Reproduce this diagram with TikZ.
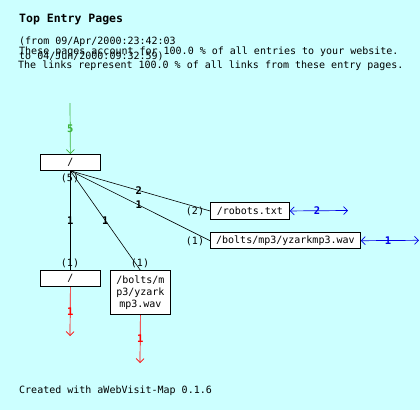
\documentclass[tikz,border=0pt]{standalone}
\usepackage{fontspec}
\setmonofont{DejaVu Sans Mono}
\usetikzlibrary{arrows.meta}
\definecolor{bg}{RGB}{204,255,255}
\definecolor{grn}{RGB}{60,180,60}
\definecolor{blu}{RGB}{0,0,230}
\definecolor{rd}{RGB}{255,0,0}
\tikzset{
  txt/.style={font=\ttfamily\fontsize{10}{11}\selectfont, inner sep=0pt},
  btxt/.style={font=\ttfamily\bfseries\fontsize{10.5}{11}\selectfont, inner sep=0pt},
  pagebox/.style={draw=black, fill=white, line width=0.8pt, inner sep=0pt, anchor=north west,
    font=\ttfamily\fontsize{10}{11}\selectfont, align=center},
  link/.style={draw=black, line width=0.6pt},
  vtip/.style={-{Straight Barb[length=4pt,width=8pt]}},
  elab/.style={btxt, midway},
}
\begin{document}
\begin{tikzpicture}[x=1pt,y=-1pt]
\fill[bg] (0,0) rectangle (420,410);
\useasboundingbox (0,0) rectangle (420,410);
% header
\node[btxt, anchor=west, font=\ttfamily\bfseries\fontsize{11.5}{12}\selectfont] (title) at (19,20) {Top Entry Pages};
\node[txt, anchor=west] (from) at (19,41.5) {(from 09/Apr/2000:23:42:03};
\node[txt, anchor=west] (these) at (19,51.5) {These pages account for 100.0 \% of all entries to your website.};
\node[txt, anchor=west] (to) at (19,56) {to 04/Jun/2000:09:32:59)};
\node[txt, anchor=west] (links) at (18,66) {The links represent 100.0 \% of all links from these entry pages.};
% boxes
\node[pagebox, minimum width=60pt, minimum height=16pt] (root) at (40,154) {/};
\node[pagebox, minimum width=79pt, minimum height=16.5pt] (robots) at (210,202.3) {/robots.txt};
\node[pagebox, minimum width=150pt, minimum height=16pt] (bolts) at (210,232.3) {/bolts/mp3/yzarkmp3.wav};
\node[pagebox, minimum width=60pt, minimum height=16pt] (slash) at (40,270.3) {/};
\node[pagebox, minimum width=60pt, minimum height=44pt, text width=60pt] (bm) at (110,270.3) {/bolts/m\\[1pt]p3/yzark\\[1pt]mp3.wav};
% counts
\node[txt] (c5) at (70,178) {(5)};
\node[txt] (c2) at (195,211) {(2)};
\node[txt] (c1a) at (195,241) {(1)};
\node[txt] (c1b) at (70,263) {(1)};
\node[txt] (c1c) at (140,263) {(1)};
% incoming
\coordinate (gin) at (70,103);
\draw[grn, line width=0.7pt, vtip] (gin) -- (root.north) node[elab, text=grn, pos=0.51] {5};
% links
\draw[link] (root.south) -- (robots.west) node[elab, pos=0.49] {2};
\draw[link] (root.south) -- (bolts.west) node[elab, pos=0.49] {1};
\draw[link] (root.south) -- (slash.north) node[elab] {1};
\draw[link] (root.south) -- (bm.north) node[elab] {1};
% outgoing blue
\coordinate (rob) at (348,210.5);
\coordinate (bob) at (419,240.3);
\draw[blu, line width=0.7pt, {Straight Barb[length=4pt,width=8pt]}-{Straight Barb[length=4pt,width=8pt]}] (robots.east) -- (rob) node[elab, text=blu, pos=0.47] {2};
\draw[blu, line width=0.7pt, {Straight Barb[length=4pt,width=8pt]}-{Straight Barb[length=4pt,width=8pt]}] (bolts.east) -- (bob) node[elab, text=blu, pos=0.47] {1};
% exits red
\coordinate (sx) at (70,336);
\coordinate (bx) at (140,363);
\draw[rd, line width=0.7pt, vtip] (slash.south) -- (sx) node[elab, text=rd] {1};
\draw[rd, line width=0.7pt, vtip] (bm.south) -- (bx) node[elab, text=rd] {1};
% footer
\node[txt, anchor=west] (footer) at (19,391) {Created with aWebVisit-Map 0.1.6};
\end{tikzpicture}
\end{document}
